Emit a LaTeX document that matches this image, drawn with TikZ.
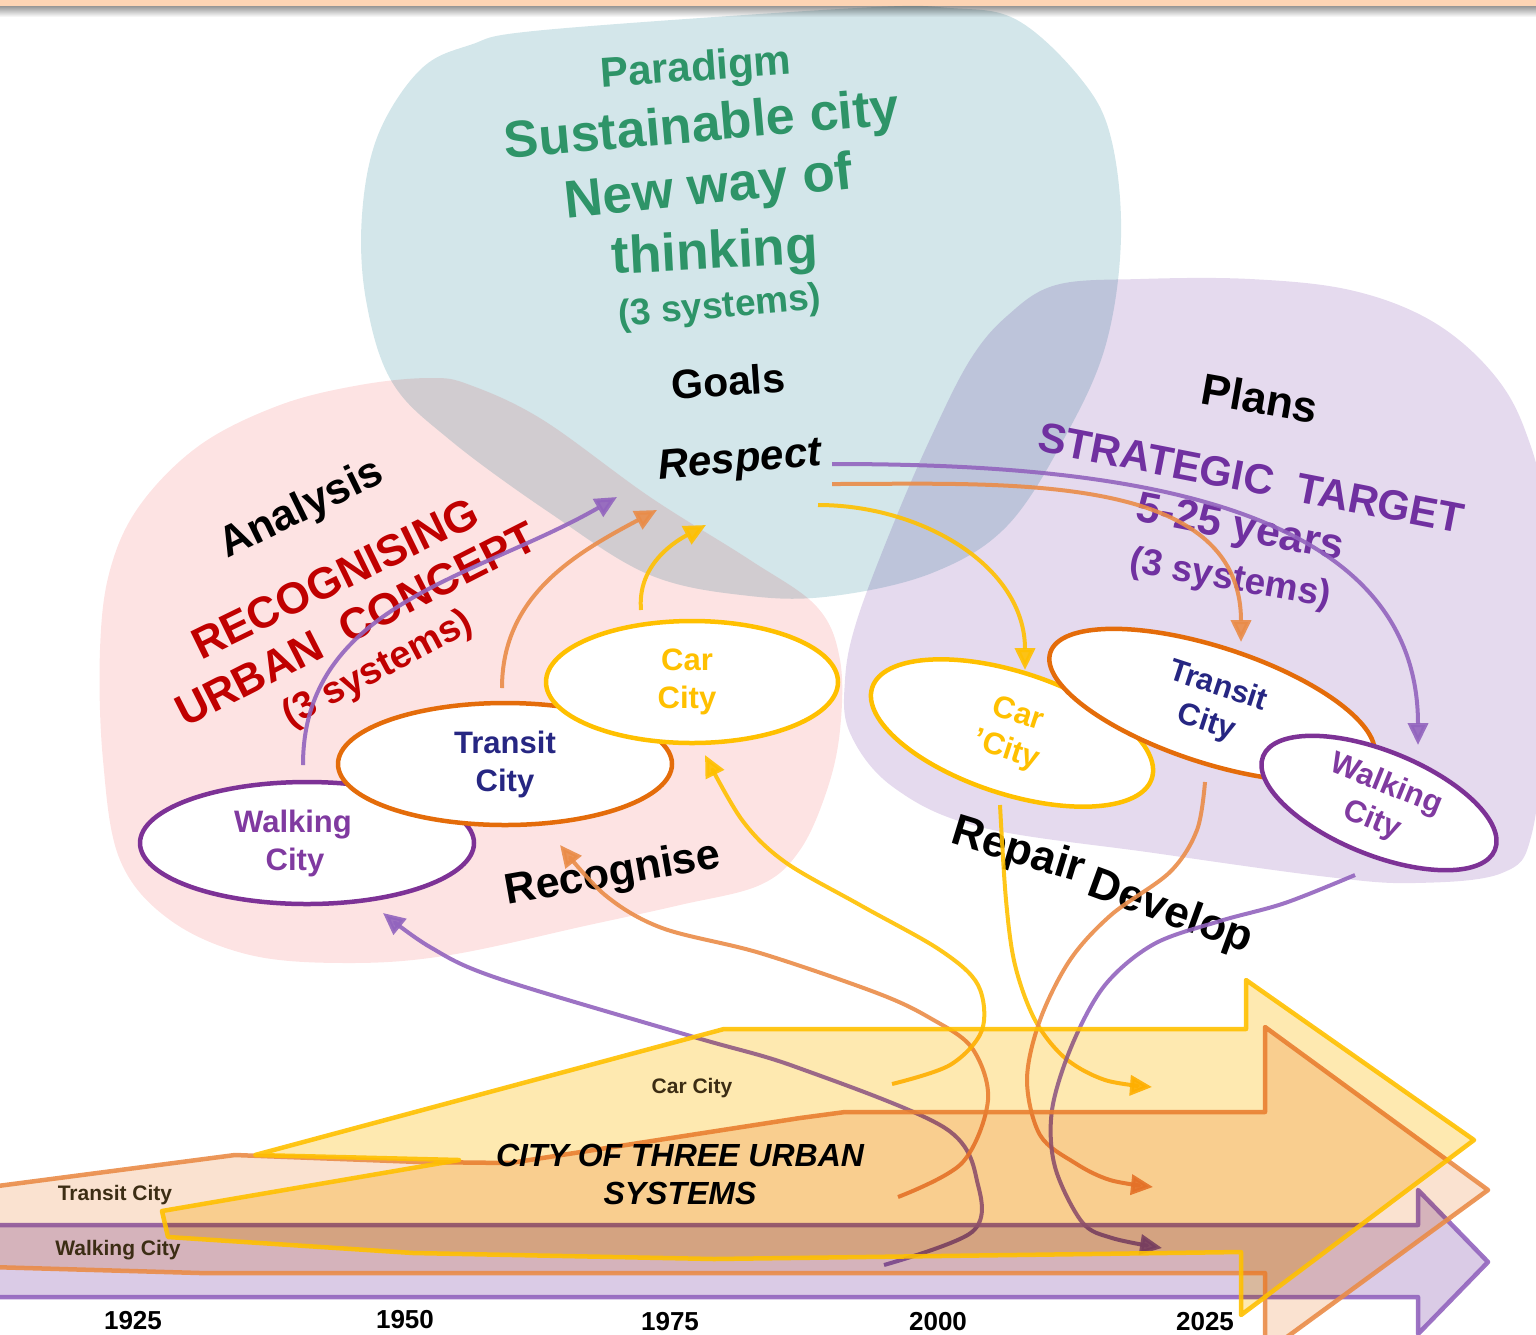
\documentclass[tikz,border=0pt]{standalone}
\usepackage{fontspec}
\setmainfont{Liberation Sans}
\usetikzlibrary{shapes.geometric,arrows.meta}
\definecolor{topbar}{RGB}{253,212,180}
\definecolor{goalfill}{RGB}{211,230,234}
\definecolor{anafill}{RGB}{253,227,227}
\definecolor{planfill}{RGB}{229,218,238}
\definecolor{paragreen}{RGB}{46,148,104}
\definecolor{anared}{RGB}{192,0,0}
\definecolor{planpurple}{RGB}{112,48,160}
\definecolor{walkring}{RGB}{125,50,150}
\definecolor{walktext}{RGB}{128,58,160}
\definecolor{transring}{RGB}{228,108,10}
\definecolor{transtext}{RGB}{38,38,130}
\definecolor{carring}{RGB}{255,192,0}
\definecolor{walkline}{RGB}{146,100,190}
\definecolor{transline}{RGB}{234,140,72}
\definecolor{carline}{RGB}{255,192,0}
\definecolor{walkband}{RGB}{218,203,230}
\definecolor{transband}{RGB}{250,226,208}
\definecolor{carband}{RGB}{254,233,176}
\definecolor{bandtext}{RGB}{60,45,20}
\newcommand\fsz[2]{\fontsize{#1}{#2}\selectfont}

\begin{document}
\begin{tikzpicture}[x=1pt,y=-1pt,line join=round,
  city/.style={ellipse,draw,fill=white,line width=4.5pt,inner sep=0pt,
    align=center,font=\bfseries\fsz{31}{38}},
  say/.style={inner sep=0pt,align=center},
  link/.style={line width=4pt,opacity=0.9,-{Triangle[length=22pt,width=20pt]}},
  band/.style={line width=4.5pt,draw opacity=0.9}]

  \useasboundingbox (0,0) rectangle (1536,1334);
  \clip (0,0) rectangle (1536,1334);

  \shade[top color=black!45,bottom color=white] (0,5) rectangle (1536,17);
  \fill[topbar] (0,0) rectangle (1536,6);

  \begin{scope}[blend mode=multiply]
    \fill[goalfill] plot[smooth cycle,tension=0.6] coordinates {(470,45) (544,30) (857,8) (950,8) (1017,20) (1081,79) (1111,138) (1121,237) (1106,344) (1066,435) (1007,526) (932,573) (833,596) (750,596) (650,575) (550,513) (450,440) (392,382) (366,300) (362,215) (378,135) (420,70)};
    \fill[anafill] plot[smooth cycle,tension=0.6] coordinates {(430,378) (470,385) (543,420) (650,497) (750,560) (817,607) (840,660) (840,730) (827,790) (800,850) (760,885) (680,905) (589,925) (450,955) (350,963) (250,955) (170,920) (120,860) (103,760) (100,650) (110,570) (140,505) (200,445) (280,405) (360,385)};
    \fill[planfill] plot[smooth cycle,tension=0.6] coordinates {(1056,285) (1140,279) (1250,279) (1350,290) (1430,320) (1490,370) (1525,430) (1545,520) (1545,700) (1532,833) (1502,873) (1415,883) (1328,877) (1154,853) (980,827) (893,787) (850,733) (845,680) (857,620) (895,520) (932,435) (970,360) (1007,316)};
  \end{scope}

  \node[city,draw=walkring,text=walktext,minimum width=334pt,minimum height=122pt] (lwalk) at (307,843) {Walking\hspace*{28pt}\\City\hspace*{24pt}};
  \node[city,draw=transring,text=transtext,minimum width=334pt,minimum height=122pt] (ltrans) at (505,764) {Transit\\City};
  \node[city,draw=carring,text=carring,minimum width=292pt,minimum height=122pt] (lcar) at (692,682) {Car\hspace*{10pt}\\City\hspace*{10pt}};
  \node[city,draw=carring,text=carring,minimum width=294pt,minimum height=122pt,rotate=-18] (rcar) at (1012,733) {Car\\’City};
  \node[city,draw=transring,text=transtext,minimum width=340pt,minimum height=116pt,rotate=-18] (rtrans) at (1212,705) {Transit\\City};
  \node[city,draw=walkring,text=walktext,minimum width=250pt,minimum height=104pt,rotate=-22] (rwalk) at (1379,803) {Walking\\City};

  \node[say,text=paragreen,rotate=4,font=\bfseries\fsz{42}{50}] (para) at (696,70) {Paradigm};
  \node[say,text=paragreen,rotate=5,font=\bfseries\fsz{52}{60}] (sust) at (702,128) {Sustainable city};
  \node[say,text=paragreen,rotate=6,font=\bfseries\fsz{53}{60}] (neway) at (709,190) {New way of};
  \node[say,text=paragreen,rotate=3,font=\bfseries\fsz{53}{60}] (think) at (715,255) {thinking};
  \node[say,text=paragreen,rotate=5,font=\bfseries\fsz{37}{44}] (gsys) at (720,308) {(3 systems)};
  \node[say,rotate=4,font=\bfseries\fsz{41}{48}] (goals) at (728,381) {Goals};
  \node[say,rotate=5,font=\bfseries\itshape\fsz{42}{48}] (resp) at (740,462) {Respect};
  \node[say,rotate=26,font=\bfseries\fsz{43}{50}] (anal) at (302,510) {Analysis};
  \node[say,text=anared,rotate=26,font=\bfseries\fsz{44}{50}] (recog) at (335,578) {RECOGNISING};
  \node[say,text=anared,rotate=27,font=\bfseries\fsz{44}{50}] (urban) at (356,624) {URBAN~~CONCEPT};
  \node[say,text=anared,rotate=28,font=\bfseries\fsz{38}{44}] (asys) at (378,670) {(3 systems)};
  \node[say,rotate=10,font=\bfseries\fsz{43}{50}] (recg) at (613,875) {Recognise};
  \node[say,rotate=-10,font=\bfseries\fsz{44}{50}] (plans) at (1260,398) {Plans};
  \node[say,text=planpurple,rotate=-11,font=\bfseries\fsz{42}{50}] (strat) at (1251,478) {STRATEGIC~~TARGET};
  \node[say,text=planpurple,rotate=-11,font=\bfseries\fsz{43}{50}] (years) at (1240,530) {5-25 years};
  \node[say,text=planpurple,rotate=-10,font=\bfseries\fsz{37}{44}] (psys) at (1230,580) {(3 systems)};
  \node[say,rotate=-17,font=\bfseries\fsz{44}{50}] (repair) at (1018,852) {Repair};
  \node[say,rotate=-20,font=\bfseries\fsz{44}{50}] (devel) at (1170,913) {Develop};

  \coordinate (wk1) at (303,765); \coordinate (wk2) at (617,497);
  \coordinate (tr1) at (502,688); \coordinate (tr2) at (657,510);
  \coordinate (ca1) at (641,610); \coordinate (ca2) at (706,525);
  \draw[link,walkline] (wk1) to[out=90,in=210] (wk2);
  \draw[link,transline] (tr1) to[out=90,in=208] (tr2);
  \draw[link,carline] (ca1) to[out=95,in=208] (ca2);

  \coordinate (rs1) at (832,464); \coordinate (rs2) at (1418,745);
  \coordinate (rs3) at (832,484); \coordinate (rs4) at (1241,642);
  \coordinate (rs5) at (818,505); \coordinate (rs6) at (1025,670);
  \draw[link,walkline] (rs1) to[out=0,in=90] (rs2);
  \draw[link,transline] (rs3) to[out=0,in=90] (rs4);
  \draw[link,carline] (rs5) to[out=0,in=90] (rs6);

  \coordinate (wb1) at (884,1265); \coordinate (wb2) at (383,913);
  \coordinate (tb1) at (898,1197); \coordinate (tb2) at (560,845);
  \coordinate (cb1) at (892,1084); \coordinate (cb2) at (705,755);
  \draw[link,walkline] plot[smooth,tension=0.55] coordinates {(wb1) (972,1232) (978,1185) (945,1128) (796,1067) (694,1037) (497,978) (430,947) (wb2)};
  \draw[link,transline] plot[smooth,tension=0.55] coordinates {(tb1) (962,1163) (988,1100) (972,1048) (930,1018) (877,993) (760,953) (662,928) (605,895) (tb2)};
  \draw[link,carline] plot[smooth,tension=0.55] coordinates {(cb1) (950,1065) (982,1030) (978,985) (940,950) (860,905) (785,862) (742,820) (cb2)};

  \coordinate (cr1) at (1000,805); \coordinate (cr2) at (1152,1087);
  \coordinate (or1) at (1205,782); \coordinate (or2) at (1153,1187);
  \coordinate (pr1) at (1355,875); \coordinate (pr2) at (1162,1248);
  \draw[link,carline] plot[smooth,tension=0.55] coordinates {(cr1) (1006,900) (1015,965) (1035,1020) (1065,1058) (1105,1080) (cr2)};
  \draw[link,transline] plot[smooth,tension=0.55] coordinates {(or1) (1197,830) (1170,872) (1111,915) (1070,960) (1040,1020) (1027,1080) (1040,1135) (1075,1163) (1110,1180) (or2)};
  \draw[link,walkline] plot[smooth,tension=0.55] coordinates {(pr1) (1285,903) (1220,921) (1154,944) (1105,985) (1072,1045) (1052,1110) (1055,1167) (1082,1222) (1112,1238) (pr2)};

  \draw[band,walkline,preaction={fill=walkband,blend mode=multiply}]
    (-10,1225) -- (1418,1225) -- (1418,1190) -- (1488,1262) -- (1418,1334) -- (1418,1297) -- (-10,1297) -- cycle;
  \draw[band,transline,preaction={fill=transband,blend mode=multiply}]
    (-10,1187) -- (235,1155) -- (420,1162) -- (510,1163) -- (800,1118) -- (845,1112) -- (1265,1112) -- (1265,1027) -- (1488,1190) -- (1265,1353) -- (1265,1273) -- (200,1273) -- (-10,1267) -- cycle;
  \draw[band,carline,preaction={fill=carband,blend mode=multiply}]
    (255,1155) -- (724,1029) -- (1246,1029) -- (1246,980) -- (1474,1140) -- (1241,1315) -- (1241,1252) -- (714,1259) -- (413,1253) -- (168,1237) -- (162,1211) -- (459,1160) -- cycle;

  \node[say,text=bandtext,font=\bfseries\fsz{21}{25}] (carband) at (692,1088) {Car City};
  \node[say,font=\bfseries\itshape\fsz{32}{38}] (three) at (680,1174) {CITY OF THREE URBAN\\SYSTEMS};
  \node[say,text=bandtext,font=\bfseries\fsz{21}{25}] (transband) at (115,1195) {Transit City};
  \node[say,text=bandtext,font=\bfseries\fsz{21}{25}] (walkband) at (118,1250) {Walking City};

  \node[say,font=\bfseries\fsz{26}{30}] (y1925) at (133,1321) {1925};
  \node[say,font=\bfseries\fsz{26}{30}] (y1950) at (405,1320) {1950};
  \node[say,font=\bfseries\fsz{26}{30}] (y1975) at (670,1322) {1975};
  \node[say,font=\bfseries\fsz{26}{30}] (y2000) at (938,1322) {2000};
  \node[say,font=\bfseries\fsz{26}{30}] (y2025) at (1205,1322) {2025};
\end{tikzpicture}
\end{document}
